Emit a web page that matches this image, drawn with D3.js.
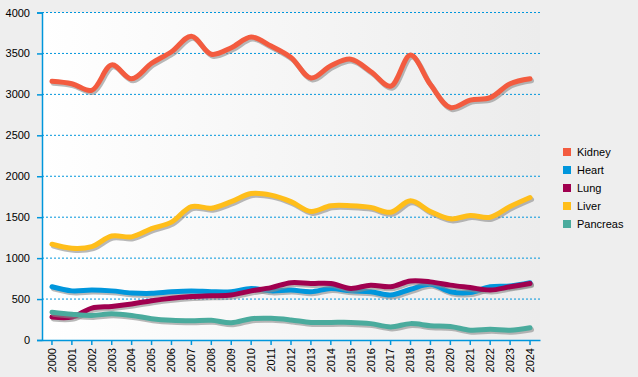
<!DOCTYPE html>
<html><head><meta charset="utf-8">
<script src="https://cdn.jsdelivr.net/npm/d3@7/dist/d3.min.js"></script>
<style>body{margin:0;background:#eeeeee;}svg{display:block;font-family:"Liberation Sans",Arial,sans-serif;}</style>
</head><body><svg id="c" width="638" height="377"></svg>
<script>
const years = ["2000","2001","2002","2003","2004","2005","2006","2007","2008","2009","2010","2011","2012","2013","2014","2015","2016","2017","2018","2019","2020","2021","2022","2023","2024"];
const seriesNames = ["Kidney","Heart","Lung","Liver","Pancreas"];
const seriesColors = ["#f35b3f","#0096dc","#a0004f","#ffbe1a","#4aab9d"];
const kidney = [3160,3130,3050,3360,3190,3380,3520,3710,3490,3570,3700,3590,3450,3200,3350,3430,3280,3100,3480,3120,2840,2930,2960,3130,3190];
const heart = [650,600,610,600,575,570,590,600,590,590,630,600,610,590,630,600,590,550,620,680,590,580,650,660,700];
const lung = [280,280,390,410,440,480,510,530,540,550,600,640,700,690,690,630,670,650,720,710,670,640,610,650,690];
const liver = [1170,1120,1140,1270,1260,1360,1440,1630,1610,1690,1790,1770,1690,1570,1640,1640,1620,1560,1700,1570,1480,1520,1500,1630,1740];
const pancreas = [340,315,300,320,300,260,240,235,240,210,260,265,245,215,215,215,200,160,200,175,165,120,130,120,150];
const yTicks = [0,500,1000,1500,2000,2500,3000,3500,4000];
const seriesValues = [kidney, heart, lung, liver, pancreas];

const svg = d3.select("#c");
const L = 42, R = 540, T = 12.5, B = 340;
const x = d3.scaleBand().domain(years).range([L, R]);
const y = d3.scaleLinear().domain([0, 4000]).range([B, T]);
const cx = d => x(d) + x.bandwidth() / 2;

const defs = svg.append("defs");
const g = defs.append("linearGradient").attr("id", "bg").attr("x1", "0").attr("x2", "1").attr("y1", "0").attr("y2", "0");
g.append("stop").attr("offset", "0").attr("stop-color", "#ffffff");
g.append("stop").attr("offset", "1").attr("stop-color", "#ececec");
svg.append("rect").attr("x", L).attr("y", T).attr("width", R - L).attr("height", B - T).attr("fill", "url(#bg)");

// grid
svg.append("g").selectAll("line").data(yTicks.filter(v => v > 0)).join("line")
  .attr("x1", L).attr("x2", R).attr("y1", d => y(d)).attr("y2", d => y(d))
  .attr("stroke", "#0096dc").attr("stroke-width", 1).attr("stroke-dasharray", "2,2");

// y axis
const ya = svg.append("g").attr("transform", `translate(${L},0)`)
  .call(d3.axisLeft(y).tickValues(yTicks).tickSize(5).tickPadding(7).tickFormat(d3.format("d")));
ya.select(".domain").attr("stroke", "#0096dc").attr("stroke-width", 1.5);
ya.selectAll(".tick line").attr("stroke", "#0096dc").attr("stroke-width", 1.5);
ya.selectAll("text").attr("font-size", 11).attr("fill", "#000").attr("font-family", "Liberation Sans, Arial, sans-serif");

// x axis
const xa = svg.append("g").attr("transform", `translate(0,${B})`)
  .call(d3.axisBottom(x).tickSize(5).tickSizeOuter(0).tickPadding(3));
xa.select(".domain").attr("stroke", "#0096dc").attr("stroke-width", 1.5);
xa.selectAll(".tick line").attr("stroke", "#0096dc").attr("stroke-width", 1.5);
xa.selectAll("text").attr("font-size", 11).attr("fill", "#000").attr("font-family", "Liberation Sans, Arial, sans-serif")
  .attr("transform", "rotate(-90)").attr("text-anchor", "end").attr("dy", "0.35em").attr("x", -8).attr("y", 0);

const line = d3.line().x((d, i) => cx(years[i])).y(d => y(d)).curve(d3.curveCatmullRom.alpha(0.5));

const lines = svg.append("g");
seriesValues.forEach((vals, k) => {
  lines.append("path").attr("d", line(vals)).attr("fill", "none")
    .attr("stroke", "#8a8a8a").attr("stroke-opacity", 0.6).attr("stroke-width", 5)
    .attr("stroke-linejoin", "round").attr("stroke-linecap", "round")
    .attr("transform", "translate(1.5,2)");
  lines.append("path").attr("d", line(vals)).attr("fill", "none")
    .attr("stroke", seriesColors[k]).attr("stroke-width", 5)
    .attr("stroke-linejoin", "round").attr("stroke-linecap", "round");
});

// legend
const lg = svg.append("g");
seriesNames.forEach((n, i) => {
  const yy = 152 + i * 18;
  lg.append("rect").attr("x", 563).attr("y", yy - 4).attr("width", 8).attr("height", 8).attr("fill", seriesColors[i]);
  lg.append("text").attr("x", 577).attr("y", yy).attr("dy", "0.35em").attr("font-size", 11).attr("fill", "#000").text(n);
});
</script></body></html>
